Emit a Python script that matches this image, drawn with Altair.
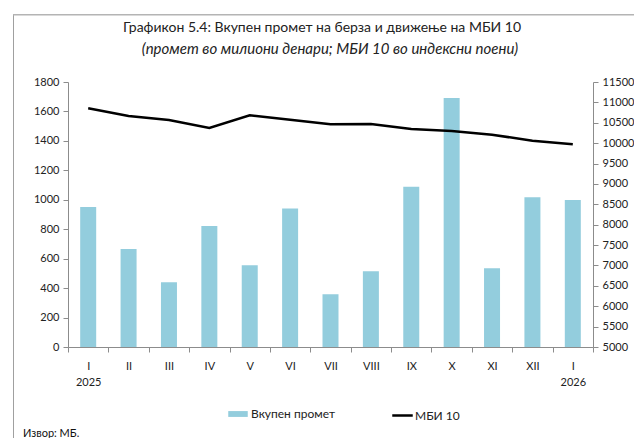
import altair as alt
import pandas as pd

months = ["I|2025", "II", "III", "IV", "V", "VI", "VII", "VIII", "IX", "X", "XI", "XII", "I|2026"]
turnover = [951, 666, 439, 822, 555, 940, 358, 514, 1089, 1691, 535, 1017, 999]
mbi10 = [10855, 10666, 10568, 10372, 10683, 10575, 10462, 10470, 10347, 10298, 10207, 10060, 9972]
left_ticks = list(range(0, 1801, 200))
right_ticks = list(range(5000, 11501, 500))
title_text = "Графикон 5.4: Вкупен промет на берза и движење на МБИ 10"
subtitle_text = "(промет во милиони денари; МБИ 10 во индексни поени)"
source_text = "Извор: МБ."

df = pd.DataFrame({
    "month": months,
    "turnover": turnover,
    "mbi": mbi10,
    "s1": "Вкупен промет",
    "s2": "МБИ 10",
})

W, H = 525, 265
FONT = "Lato"
AXC = "#8c8c8c"
LBL = "#222222"

x = alt.X(
    "month:N", sort=months, title=None,
    scale=alt.Scale(paddingInner=0, paddingOuter=0),
    axis=alt.Axis(labelExpr="datum.value ? split(datum.value, '|') : ''", labelAngle=0,
                  tickBand="extent",
                  domainColor=AXC, tickColor=AXC, tickSize=5, labelPadding=8,
                  labelFontSize=11, labelColor=LBL, labelFont=FONT, labelLineHeight=16),
)

base = alt.Chart(df)

bars = base.mark_bar(size=16).encode(
    x=x,
    y=alt.Y("turnover:Q", scale=alt.Scale(domain=[0, 1800], nice=False),
            axis=alt.Axis(values=left_ticks, format="d", title=None, grid=False, tickSize=5,
                          orient="left", domainColor=AXC, tickColor=AXC, labelFontSize=11,
                          labelColor=LBL, labelFont=FONT, labelPadding=4)),
    fill=alt.Fill("s1:N", scale=alt.Scale(range=["#93CDDD"]),
                  legend=alt.Legend(title=None, orient="none", legendX=160, legendY=322,
                                    symbolType="M-1,-0.3H1V0.3H-1Z", symbolSize=380,
                                    symbolStrokeWidth=0, labelFont=FONT, labelFontSize=12,
                                    labelColor=LBL, labelOffset=3)),
)

line = base.mark_line(strokeWidth=2.5).encode(
    x=x,
    y=alt.Y("mbi:Q", scale=alt.Scale(domain=[5000, 11500], nice=False),
            axis=alt.Axis(values=right_ticks, format="d", title=None, grid=False, tickSize=5,
                          orient="right", domainColor=AXC, tickColor=AXC, labelFontSize=11,
                          labelColor=LBL, labelFont=FONT, labelPadding=4)),
    stroke=alt.Stroke("s2:N", scale=alt.Scale(range=["#000000"]),
                      legend=alt.Legend(title=None, orient="none", legendX=323, legendY=322,
                                        symbolType="stroke", symbolSize=420, symbolStrokeWidth=2.5,
                                        labelFont=FONT, labelFontSize=12, labelColor=LBL,
                                        labelOffset=1)),
)

one = pd.DataFrame({"t": [title_text], "s": [subtitle_text], "src": [source_text]})
frame_left = alt.Chart(one).mark_rect(color="#a0a0a0").encode(
    x=alt.value(-55), x2=alt.value(-54), y=alt.value(-68), y2=alt.value(H + 120))
frame_top = alt.Chart(one).mark_rect(color="#b4b4b4").encode(
    x=alt.value(-55), x2=alt.value(W + 80), y=alt.value(-68), y2=alt.value(-66.5))
title = alt.Chart(one).mark_text(align="center", baseline="middle", font=FONT, fontSize=14,
                                 color=LBL).encode(
    text="t:N", x=alt.value(254), y=alt.value(-54))
subtitle = alt.Chart(one).mark_text(align="center", baseline="middle", font=FONT, fontSize=15,
                                    fontStyle="italic", color=LBL).encode(
    text="s:N", x=alt.value(262), y=alt.value(-33))
source = alt.Chart(one).mark_text(align="left", baseline="middle", font=FONT, fontSize=11,
                                  color="#111111").encode(
    text="src:N", x=alt.value(-45), y=alt.value(352))

chart = alt.layer(bars, line, frame_left, frame_top, title, subtitle, source).resolve_scale(
    y="independent"
).properties(
    width=W, height=H,
    autosize=alt.AutoSizeParams(type="none"),
    padding={"left": 60, "top": 74, "right": 41, "bottom": 91},
).configure_view(stroke=None)

chart.save("out.html", embed_options={"renderer": "svg", "actions": False})
